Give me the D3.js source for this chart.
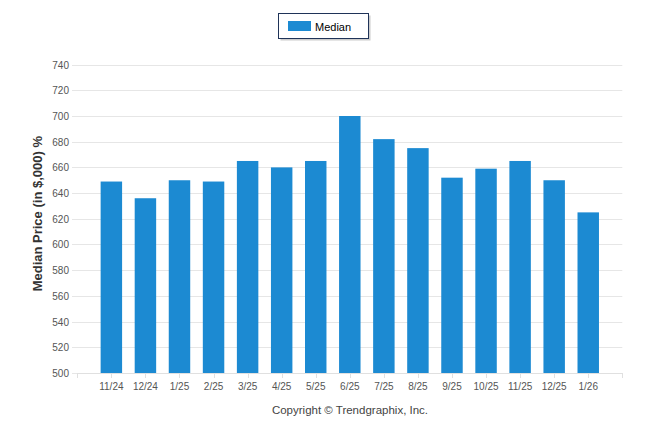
<!DOCTYPE html>
<html>
<head>
<meta charset="utf-8">
<script src="https://cdn.jsdelivr.net/npm/d3@7"></script>
<style>
  html, body { margin: 0; padding: 0; background: #fff; }
  svg { display: block; }
</style>
</head>
<body>
<svg id="chart" width="646" height="434"></svg>
<script>
const categories = ["11/24","12/24","1/25","2/25","3/25","4/25","5/25","6/25","7/25","8/25","9/25","10/25","11/25","12/25","1/26"];
const medianValues = [649, 636, 650, 649, 665, 660, 665, 700, 682, 675, 652, 659, 665, 650, 625];
const yTicks = [500, 520, 540, 560, 580, 600, 620, 640, 660, 680, 700, 720, 740];
const seriesName = "Median";
const yTitle = "Median Price (in $,000) %";
const credit = "Copyright \u00A9 Trendgraphix, Inc.";

(function () {
const svg = d3.select("#chart");
const font = "'Liberation Sans', Arial, sans-serif";
const pLeft = 77.3, pRight = 622.3, pTop = 64.6, pBottom = 373;
const step = (pRight - pLeft) / (categories.length + 1);

const x = d3.scaleBand()
  .domain(categories)
  .range([pLeft + step / 2, pRight - step / 2])
  .paddingInner(0.37)
  .paddingOuter(0.185);

const y = d3.scaleLinear().domain([500, 740]).range([pBottom, pTop]);

// gridlines
svg.append("g").selectAll("line").data(yTicks).join("line")
  .attr("x1", 72).attr("x2", pRight)
  .attr("y1", d => Math.round(y(d)) + 0.5).attr("y2", d => Math.round(y(d)) + 0.5)
  .attr("stroke", "#e6e6e6").attr("stroke-width", 1);

// y labels
const yAxis = d3.axisLeft(y).tickValues(yTicks).tickSize(0).tickPadding(0);
const gy = svg.append("g").attr("transform", "translate(69,0)").call(yAxis);
gy.select(".domain").remove();
gy.selectAll("text").attr("font-family", font).attr("font-size", 10).attr("fill", "#555").attr("dy", "0.34em");

// bars
svg.append("g").selectAll("rect").data(medianValues).join("rect")
  .attr("x", (d, i) => x(categories[i]))
  .attr("width", x.bandwidth())
  .attr("y", d => y(d))
  .attr("height", d => y(500) - y(d))
  .attr("fill", "#1c8ad2");

// x axis
const tickPos = [pLeft].concat(categories.map(c => x(c) + x.bandwidth() / 2)).concat([pRight]);
svg.append("line").attr("x1", pLeft).attr("x2", pRight)
  .attr("y1", pBottom + 0.5).attr("y2", pBottom + 0.5).attr("stroke", "#e0e0e0");
svg.append("g").selectAll("line").data(tickPos).join("line")
  .attr("x1", d => Math.round(d) + 0.5).attr("x2", d => Math.round(d) + 0.5)
  .attr("y1", pBottom).attr("y2", pBottom + 5)
  .attr("stroke", "#e0e0e0");
const xAxis = d3.axisBottom(x).tickSize(0).tickPadding(0);
const gx = svg.append("g").attr("transform", `translate(0,${pBottom})`).call(xAxis);
gx.select(".domain").remove();
gx.selectAll("text").attr("font-family", font).attr("font-size", 10).attr("fill", "#555")
  .attr("y", 17).attr("dy", 0);

// y title
svg.append("text")
  .attr("transform", `translate(41.5,213.7) rotate(-90)`)
  .attr("text-anchor", "middle")
  .attr("font-family", font).attr("font-size", 13).attr("font-weight", "bold")
  .attr("fill", "#333").text(yTitle);

// legend
const lg = svg.append("g");
lg.append("rect").attr("x", 280.5).attr("y", 15.5).attr("width", 90).attr("height", 25)
  .attr("fill", "#999").attr("opacity", 0.5);
lg.append("rect").attr("x", 278.5).attr("y", 13.5).attr("width", 90).attr("height", 25)
  .attr("fill", "#fff").attr("stroke", "#1f3358").attr("stroke-width", 1);
lg.append("rect").attr("x", 288).attr("y", 21).attr("width", 23).attr("height", 10).attr("fill", "#1c8ad2");
lg.append("text").attr("x", 315).attr("y", 30.5)
  .attr("font-family", font).attr("font-size", 11).attr("fill", "#000").text(seriesName);

// credit
svg.append("text").attr("x", 350).attr("y", 414).attr("text-anchor", "middle")
  .attr("font-family", font).attr("font-size", 11.5).attr("fill", "#444").text(credit);
})();
</script>
</body>
</html>
